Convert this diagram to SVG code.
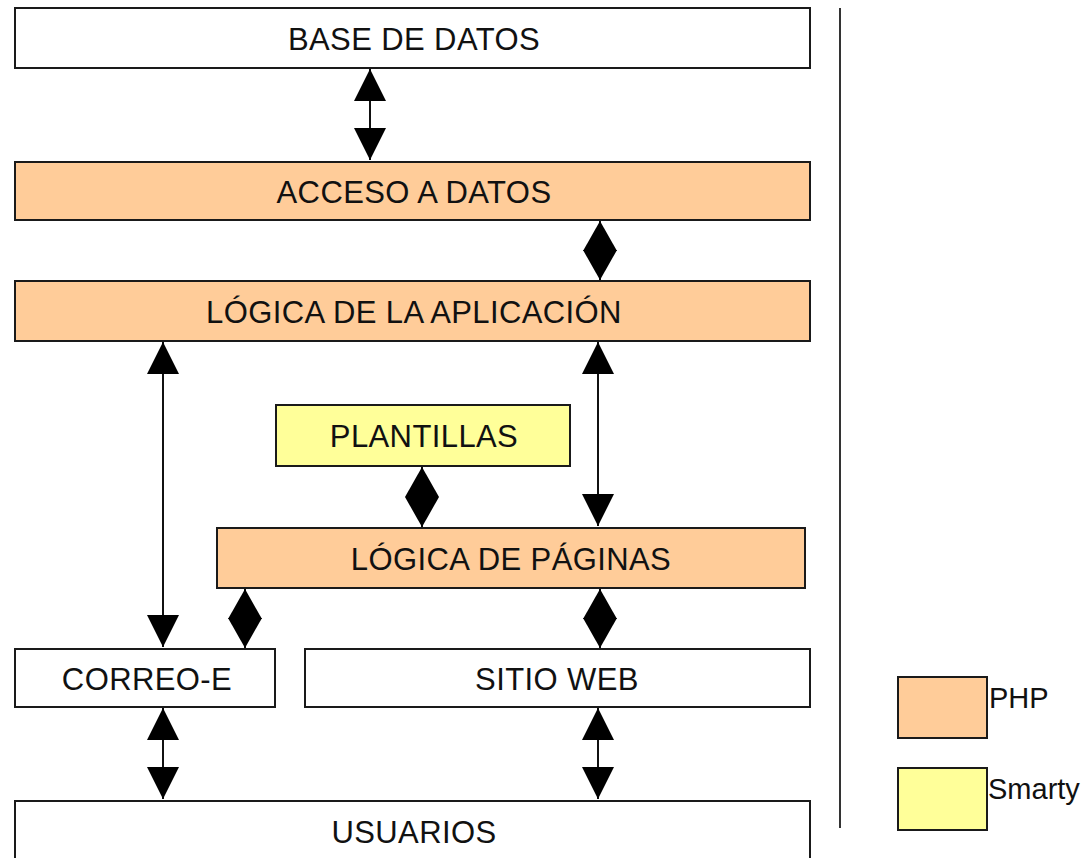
<svg xmlns="http://www.w3.org/2000/svg" width="1089" height="858" viewBox="0 0 1089 858">
<style>
.box{stroke:#1a1a1a;stroke-width:2}
.w{fill:#ffffff}
.o{fill:#ffcc99}
.y{fill:#ffff99}
.t{font-family:"Liberation Sans",Arial,sans-serif;font-size:31px;fill:#111;text-anchor:middle;letter-spacing:0.4px}
.lg{font-family:"Liberation Sans",Arial,sans-serif;font-size:29px;fill:#111}
.c{stroke:#111;stroke-width:2;fill:none;marker-start:url(#ah);marker-end:url(#ah)}
.d{stroke:#111;stroke-width:2;fill:none;marker-start:url(#dh);marker-end:url(#dh)}
</style>
<defs>
<marker id="ah" markerUnits="userSpaceOnUse" markerWidth="34" markerHeight="34" viewBox="0 0 34 34" refX="33" refY="17" orient="auto-start-reverse">
<path d="M1,1 L33,17 L1,33 z" fill="#000"/>
</marker>
<marker id="dh" markerUnits="userSpaceOnUse" markerWidth="36" markerHeight="36" viewBox="0 0 36 36" refX="31" refY="18" orient="auto-start-reverse">
<path d="M1,1 L31,18 L1,35 z" fill="#000"/>
</marker>
</defs>
<rect width="1089" height="858" fill="#ffffff"/>
<g id="connectors">
<line class="c" x1="370" y1="69" x2="370" y2="160"/>
<line class="d" x1="600" y1="221" x2="600" y2="280"/>
<line class="c" x1="163" y1="342" x2="163" y2="647"/>
<line class="c" x1="598" y1="342" x2="598" y2="526"/>
<line class="d" x1="422" y1="467" x2="422" y2="527"/>
<line class="d" x1="245" y1="589" x2="245" y2="648"/>
<line class="d" x1="600" y1="589" x2="600" y2="648"/>
<line class="c" x1="163" y1="708" x2="163" y2="799"/>
<line class="c" x1="598" y1="708" x2="598" y2="799"/>
</g>
<g id="base-de-datos"><rect class="box w" x="15" y="8" width="795" height="60"/><text class="t" x="414" y="50">BASE DE DATOS</text></g>
<g id="acceso-a-datos"><rect class="box o" x="15" y="162" width="795" height="58"/><text class="t" x="414" y="203">ACCESO A DATOS</text></g>
<g id="logica-aplicacion"><rect class="box o" x="15" y="281" width="795" height="60"/><text class="t" x="414" y="323">LÓGICA DE LA APLICACIÓN</text></g>
<g id="plantillas"><rect class="box y" x="276" y="405" width="294" height="61"/><text class="t" x="424" y="447">PLANTILLAS</text></g>
<g id="logica-paginas"><rect class="box o" x="217" y="528" width="588" height="60"/><text class="t" x="511" y="570">LÓGICA DE PÁGINAS</text></g>
<g id="correo-e"><rect class="box w" x="15" y="649" width="260" height="58"/><text class="t" x="147" y="690">CORREO-E</text></g>
<g id="sitio-web"><rect class="box w" x="305" y="649" width="505" height="58"/><text class="t" x="557" y="690">SITIO WEB</text></g>
<g id="usuarios"><rect class="box w" x="15" y="801" width="795" height="70"/><text class="t" x="414" y="843">USUARIOS</text></g>
<g id="separator"><line x1="840" y1="8" x2="840" y2="828" stroke="#333" stroke-width="2"/></g>
<g id="legend-php"><rect class="box o" x="898" y="677" width="89" height="61"/><text class="lg" x="989" y="708">PHP</text></g>
<g id="legend-smarty"><rect class="box y" x="898" y="768" width="89" height="62"/><text class="lg" x="988" y="799">Smarty</text></g>
</svg>
